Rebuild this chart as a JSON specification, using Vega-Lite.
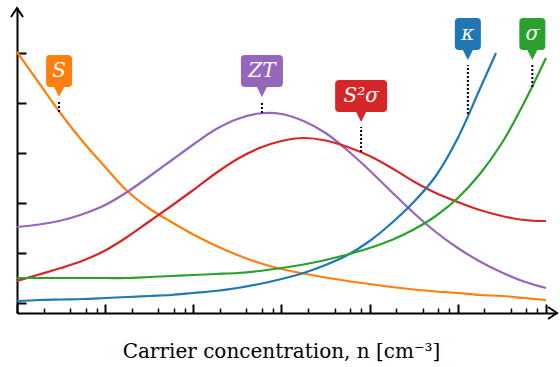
{
  "$schema": "https://vega.github.io/schema/vega-lite/v6.json",
  "width": 540,
  "height": 305,
  "autosize": {"type": "none"},
  "padding": {"left": 17, "top": 8, "right": 3, "bottom": 54},
  "background": "white",
  "config": {"view": {"stroke": null}, "axis": {"grid": false}},
  "datasets": {
    "curves": [
      {"n": 1e16, "q": "S", "v": 5.02}, {"n": 1.778e16, "q": "S", "v": 4.40}, {"n": 3.162e16, "q": "S", "v": 3.78}, {"n": 5.623e16, "q": "S", "v": 3.22},
      {"n": 1e17, "q": "S", "v": 2.72}, {"n": 1.778e17, "q": "S", "v": 2.24}, {"n": 3.162e17, "q": "S", "v": 1.89}, {"n": 5.623e17, "q": "S", "v": 1.62},
      {"n": 1e18, "q": "S", "v": 1.37}, {"n": 1.778e18, "q": "S", "v": 1.15}, {"n": 3.162e18, "q": "S", "v": 0.96}, {"n": 5.623e18, "q": "S", "v": 0.80},
      {"n": 1e19, "q": "S", "v": 0.68}, {"n": 1.778e19, "q": "S", "v": 0.59}, {"n": 3.162e19, "q": "S", "v": 0.51}, {"n": 5.623e19, "q": "S", "v": 0.44},
      {"n": 1e20, "q": "S", "v": 0.38}, {"n": 1.778e20, "q": "S", "v": 0.32}, {"n": 3.162e20, "q": "S", "v": 0.27}, {"n": 5.623e20, "q": "S", "v": 0.23},
      {"n": 1e21, "q": "S", "v": 0.20}, {"n": 1.778e21, "q": "S", "v": 0.16}, {"n": 3.162e21, "q": "S", "v": 0.14}, {"n": 5.623e21, "q": "S", "v": 0.10},
      {"n": 1e22, "q": "S", "v": 0.06},
      {"n": 1e16, "q": "ZT", "v": 1.52}, {"n": 1.778e16, "q": "ZT", "v": 1.57}, {"n": 3.162e16, "q": "ZT", "v": 1.65}, {"n": 5.623e16, "q": "ZT", "v": 1.78},
      {"n": 1e17, "q": "ZT", "v": 1.96}, {"n": 1.778e17, "q": "ZT", "v": 2.22}, {"n": 3.162e17, "q": "ZT", "v": 2.53}, {"n": 5.623e17, "q": "ZT", "v": 2.85},
      {"n": 1e18, "q": "ZT", "v": 3.17}, {"n": 1.778e18, "q": "ZT", "v": 3.47}, {"n": 3.162e18, "q": "ZT", "v": 3.68}, {"n": 5.623e18, "q": "ZT", "v": 3.79},
      {"n": 1e19, "q": "ZT", "v": 3.78}, {"n": 1.778e19, "q": "ZT", "v": 3.64}, {"n": 3.162e19, "q": "ZT", "v": 3.40}, {"n": 5.623e19, "q": "ZT", "v": 3.05},
      {"n": 1e20, "q": "ZT", "v": 2.65}, {"n": 1.778e20, "q": "ZT", "v": 2.22}, {"n": 3.162e20, "q": "ZT", "v": 1.80}, {"n": 5.623e20, "q": "ZT", "v": 1.42},
      {"n": 1e21, "q": "ZT", "v": 1.10}, {"n": 1.778e21, "q": "ZT", "v": 0.83}, {"n": 3.162e21, "q": "ZT", "v": 0.61}, {"n": 5.623e21, "q": "ZT", "v": 0.43},
      {"n": 1e22, "q": "ZT", "v": 0.30},
      {"n": 1e16, "q": "S2", "v": 0.44}, {"n": 1.778e16, "q": "S2", "v": 0.57}, {"n": 3.162e16, "q": "S2", "v": 0.70}, {"n": 5.623e16, "q": "S2", "v": 0.85},
      {"n": 1e17, "q": "S2", "v": 1.05}, {"n": 1.778e17, "q": "S2", "v": 1.32}, {"n": 3.162e17, "q": "S2", "v": 1.63}, {"n": 5.623e17, "q": "S2", "v": 1.94},
      {"n": 1e18, "q": "S2", "v": 2.26}, {"n": 1.778e18, "q": "S2", "v": 2.59}, {"n": 3.162e18, "q": "S2", "v": 2.88}, {"n": 5.623e18, "q": "S2", "v": 3.10},
      {"n": 1e19, "q": "S2", "v": 3.24}, {"n": 1.778e19, "q": "S2", "v": 3.30}, {"n": 3.162e19, "q": "S2", "v": 3.25}, {"n": 5.623e19, "q": "S2", "v": 3.12},
      {"n": 1e20, "q": "S2", "v": 2.94}, {"n": 1.778e20, "q": "S2", "v": 2.70}, {"n": 3.162e20, "q": "S2", "v": 2.43}, {"n": 5.623e20, "q": "S2", "v": 2.20},
      {"n": 1e21, "q": "S2", "v": 2.02}, {"n": 1.778e21, "q": "S2", "v": 1.86}, {"n": 3.162e21, "q": "S2", "v": 1.74}, {"n": 5.623e21, "q": "S2", "v": 1.66},
      {"n": 1e22, "q": "S2", "v": 1.64},
      {"n": 1e16, "q": "k", "v": 0.04}, {"n": 1.778e16, "q": "k", "v": 0.06}, {"n": 3.162e16, "q": "k", "v": 0.07}, {"n": 5.623e16, "q": "k", "v": 0.08},
      {"n": 1e17, "q": "k", "v": 0.10}, {"n": 1.778e17, "q": "k", "v": 0.12}, {"n": 3.162e17, "q": "k", "v": 0.14}, {"n": 5.623e17, "q": "k", "v": 0.16},
      {"n": 1e18, "q": "k", "v": 0.20}, {"n": 1.778e18, "q": "k", "v": 0.24}, {"n": 3.162e18, "q": "k", "v": 0.30}, {"n": 5.623e18, "q": "k", "v": 0.38},
      {"n": 1e19, "q": "k", "v": 0.48}, {"n": 1.778e19, "q": "k", "v": 0.60}, {"n": 3.162e19, "q": "k", "v": 0.76}, {"n": 5.623e19, "q": "k", "v": 0.96},
      {"n": 1e20, "q": "k", "v": 1.24}, {"n": 1.778e20, "q": "k", "v": 1.60}, {"n": 3.162e20, "q": "k", "v": 2.02}, {"n": 5.623e20, "q": "k", "v": 2.54},
      {"n": 1e21, "q": "k", "v": 3.30}, {"n": 1.778e21, "q": "k", "v": 4.28}, {"n": 2.71e21, "q": "k", "v": 5.00},
      {"n": 1e16, "q": "s", "v": 0.50}, {"n": 1.778e16, "q": "s", "v": 0.50}, {"n": 3.162e16, "q": "s", "v": 0.50}, {"n": 5.623e16, "q": "s", "v": 0.50},
      {"n": 1e17, "q": "s", "v": 0.50}, {"n": 1.778e17, "q": "s", "v": 0.50}, {"n": 3.162e17, "q": "s", "v": 0.52}, {"n": 5.623e17, "q": "s", "v": 0.54},
      {"n": 1e18, "q": "s", "v": 0.56}, {"n": 1.778e18, "q": "s", "v": 0.58}, {"n": 3.162e18, "q": "s", "v": 0.60}, {"n": 5.623e18, "q": "s", "v": 0.64},
      {"n": 1e19, "q": "s", "v": 0.70}, {"n": 1.778e19, "q": "s", "v": 0.77}, {"n": 3.162e19, "q": "s", "v": 0.86}, {"n": 5.623e19, "q": "s", "v": 0.97},
      {"n": 1e20, "q": "s", "v": 1.10}, {"n": 1.778e20, "q": "s", "v": 1.26}, {"n": 3.162e20, "q": "s", "v": 1.47}, {"n": 5.623e20, "q": "s", "v": 1.74},
      {"n": 1e21, "q": "s", "v": 2.10}, {"n": 1.778e21, "q": "s", "v": 2.58}, {"n": 3.162e21, "q": "s", "v": 3.20}, {"n": 5.623e21, "q": "s", "v": 4.00},
      {"n": 1e22, "q": "s", "v": 4.90}
    ],
    "labels": [
      {"q": "S", "label": "S", "n": 3e16, "tip": 4.12, "curve": 3.82},
      {"q": "ZT", "label": "ZT", "n": 6e18, "tip": 4.12, "curve": 3.80},
      {"q": "S2", "label": "S²σ", "n": 8e19, "tip": 3.62, "curve": 3.02},
      {"q": "k", "label": "κ", "n": 1.3e21, "tip": 4.86, "curve": 3.78},
      {"q": "s", "label": "σ", "n": 7e21, "tip": 4.86, "curve": 4.32}
    ]
  },
  "layer": [
    {
      "data": {"name": "curves"},
      "mark": {"type": "line", "strokeWidth": 2.2, "interpolate": "catmull-rom"},
      "encoding": {
        "x": {
          "field": "n", "type": "quantitative",
          "scale": {"type": "log", "domain": [1e16, 1.333e22], "nice": false},
          "axis": {
            "orient": "bottom",
            "values": [1e16, 2e16, 4e16, 6e16, 8e16, 1e17, 2e17, 4e17, 6e17, 8e17, 1e18, 2e18, 4e18, 6e18, 8e18, 1e19, 2e19, 4e19, 6e19, 8e19, 1e20, 2e20, 4e20, 6e20, 8e20, 1e21, 2e21, 4e21, 6e21, 8e21, 1e22],
            "labels": false,
            "domainColor": "black", "domainWidth": 2,
            "tickColor": "black",
            "tickSize": {"condition": {"test": "abs(log(datum.value)/LN10 - round(log(datum.value)/LN10)) < 0.01", "value": -9}, "value": -5},
            "tickWidth": {"condition": {"test": "abs(log(datum.value)/LN10 - round(log(datum.value)/LN10)) < 0.01", "value": 2}, "value": 1.5},
            "title": "Carrier concentration, n [cm⁻³]",
            "titleFont": "DejaVu Serif", "titleFontSize": 20, "titleFontWeight": "normal", "titleColor": "black",
            "titleBaseline": "alphabetic", "titleAlign": "center", "titleX": 264, "titleY": 44
          }
        },
        "y": {
          "field": "v", "type": "quantitative",
          "scale": {"domain": [-0.2, 5.9], "nice": false, "zero": false},
          "axis": {
            "orient": "left", "values": [0, 1, 2, 3, 4, 5], "labels": false, "title": null,
            "domainColor": "black", "domainWidth": 2, "tickColor": "black", "tickWidth": 2, "tickSize": -9
          }
        },
        "color": {
          "field": "q", "type": "nominal", "legend": null,
          "scale": {"domain": ["S", "ZT", "S2", "k", "s"], "range": ["#ff7f0e", "#9467bd", "#d62728", "#1f77b4", "#2ca02c"]}
        },
        "detail": {"field": "q"}
      }
    },
    {
      "data": {"name": "labels"},
      "mark": {"type": "rule", "color": "black", "strokeWidth": 2, "strokeDash": [2, 2], "y2Offset": 5},
      "encoding": {
        "x": {"field": "n", "type": "quantitative"},
        "y": {"field": "curve", "type": "quantitative"},
        "y2": {"field": "tip"}
      }
    },
    {
      "data": {"name": "labels"},
      "mark": {"type": "point", "filled": true, "opacity": 1, "size": 4, "strokeWidth": 0},
      "encoding": {
        "x": {"field": "n", "type": "quantitative"},
        "y": {"field": "tip", "type": "quantitative"},
        "color": {"field": "q", "type": "nominal", "legend": null},
        "shape": {
          "field": "q", "type": "nominal", "legend": null,
          "scale": {
            "domain": ["S", "ZT", "S2", "k", "s"],
            "range": [
              "M-9,-42L9,-42Q13,-42,13,-38L13,-14Q13,-10,9,-10L5,-10L0,0L-5,-10L-9,-10Q-13,-10,-13,-14L-13,-38Q-13,-42,-9,-42Z",
              "M-17,-42L17,-42Q21,-42,21,-38L21,-14Q21,-10,17,-10L5,-10L0,0L-5,-10L-17,-10Q-21,-10,-21,-14L-21,-38Q-21,-42,-17,-42Z",
              "M-22,-42L22,-42Q26,-42,26,-38L26,-14Q26,-10,22,-10L5,-10L0,0L-5,-10L-22,-10Q-26,-10,-26,-14L-26,-38Q-26,-42,-22,-42Z",
              "M-9,-42L9,-42Q13,-42,13,-38L13,-14Q13,-10,9,-10L5,-10L0,0L-5,-10L-9,-10Q-13,-10,-13,-14L-13,-38Q-13,-42,-9,-42Z",
              "M-9,-42L9,-42Q13,-42,13,-38L13,-14Q13,-10,9,-10L5,-10L0,0L-5,-10L-9,-10Q-13,-10,-13,-14L-13,-38Q-13,-42,-9,-42Z"
            ]
          }
        }
      }
    },
    {
      "data": {"name": "labels"},
      "mark": {"type": "text", "color": "white", "font": "DejaVu Serif", "fontStyle": "italic", "fontSize": 20, "align": "center", "baseline": "middle", "dy": -26},
      "encoding": {
        "x": {"field": "n", "type": "quantitative"},
        "y": {"field": "tip", "type": "quantitative"},
        "text": {"field": "label"}
      }
    },
    {
      "data": {"values": [{}]},
      "mark": {"type": "point", "filled": false, "opacity": 1, "size": 4, "color": "black", "strokeWidth": 2, "shape": "M-6,9L0,0L6,9"},
      "encoding": {
        "x": {"datum": 1e16, "type": "quantitative"},
        "y": {"datum": 5.9, "type": "quantitative"}
      }
    },
    {
      "data": {"values": [{}]},
      "mark": {"type": "point", "filled": false, "opacity": 1, "size": 4, "color": "black", "strokeWidth": 2, "shape": "M-9,-6L0,0L-9,6"},
      "encoding": {
        "x": {"datum": 1.333e22, "type": "quantitative"},
        "y": {"datum": -0.2, "type": "quantitative"}
      }
    }
  ]
}
